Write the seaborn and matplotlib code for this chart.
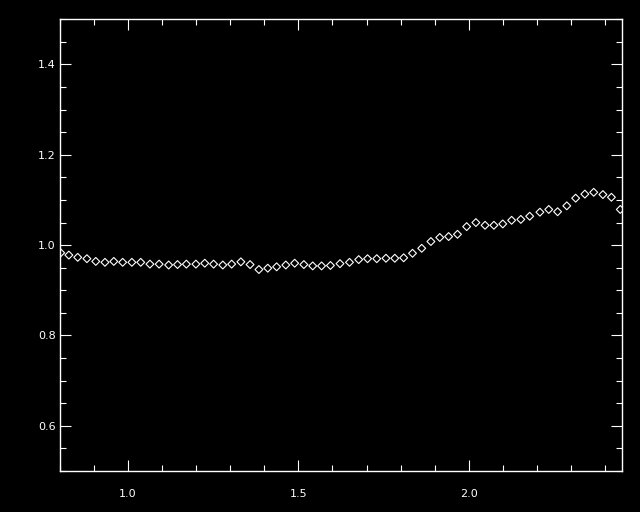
import numpy as np
import pandas as pd
import matplotlib
matplotlib.use('Agg')
import matplotlib.pyplot as plt
import seaborn as sns
from matplotlib.ticker import MultipleLocator

# values
x_vals = [0.802, 0.826, 0.852, 0.879, 0.905, 0.932, 0.958, 0.984, 1.011, 1.037,
          1.064, 1.091, 1.119, 1.145, 1.171, 1.199, 1.225, 1.251, 1.278, 1.304,
          1.331, 1.358, 1.384, 1.410, 1.436, 1.463, 1.489, 1.516, 1.542, 1.568,
          1.594, 1.622, 1.650, 1.677, 1.703, 1.730, 1.757, 1.783, 1.809, 1.835,
          1.862, 1.889, 1.915, 1.941, 1.967, 1.994, 2.021, 2.048, 2.074, 2.100,
          2.126, 2.153, 2.179, 2.209, 2.235, 2.261, 2.288, 2.314, 2.341, 2.367,
          2.394, 2.419, 2.445]
y_vals = [0.983, 0.978, 0.973, 0.970, 0.964, 0.962, 0.964, 0.962, 0.962, 0.962,
          0.958, 0.958, 0.956, 0.957, 0.958, 0.958, 0.960, 0.958, 0.956, 0.958,
          0.963, 0.957, 0.946, 0.949, 0.952, 0.956, 0.960, 0.957, 0.954, 0.954,
          0.955, 0.959, 0.962, 0.968, 0.970, 0.970, 0.971, 0.971, 0.972, 0.982,
          0.993, 1.008, 1.017, 1.019, 1.024, 1.041, 1.050, 1.044, 1.044, 1.047,
          1.055, 1.057, 1.064, 1.073, 1.079, 1.074, 1.087, 1.104, 1.113, 1.117,
          1.112, 1.106, 1.079]

df = pd.DataFrame({'x': x_vals, 'y': y_vals})

sns.set_style('dark')
plt.rcParams['font.family'] = ['DejaVu Sans']

fig = plt.figure(figsize=(6.4, 5.12), dpi=100, facecolor='black')
ax = fig.add_axes([0.09375, 0.0801, 0.8781, 0.8822])
ax.set_facecolor('black')

sns.scatterplot(data=df, x='x', y='y', marker='D', s=16, facecolor='none',
                edgecolor='white', linewidth=0.8, ax=ax)

ax.set_xlim(0.8, 2.45)
ax.set_ylim(0.5, 1.5)
ax.xaxis.set_major_locator(MultipleLocator(0.5))
ax.xaxis.set_minor_locator(MultipleLocator(0.1))
ax.yaxis.set_major_locator(MultipleLocator(0.2))
ax.yaxis.set_minor_locator(MultipleLocator(0.05))
ax.set_xticks([1.0, 1.5, 2.0])
ax.set_yticks([0.6, 0.8, 1.0, 1.2, 1.4])

for s in ax.spines.values():
    s.set_color('white')
    s.set_linewidth(1.0)
    s.set_visible(True)

ax.tick_params(which='both', direction='in', colors='white', top=True, right=True,
               bottom=True, left=True, width=0.8, labelsize=8)
ax.tick_params(which='major', length=8)
ax.tick_params(which='minor', length=4.5)
ax.tick_params(axis='x', which='major', pad=13)
ax.tick_params(axis='y', which='major', pad=3)
ax.grid(False)
ax.set_xlabel('')
ax.set_ylabel('')

fig.savefig('out.png', dpi=100, facecolor='black')
